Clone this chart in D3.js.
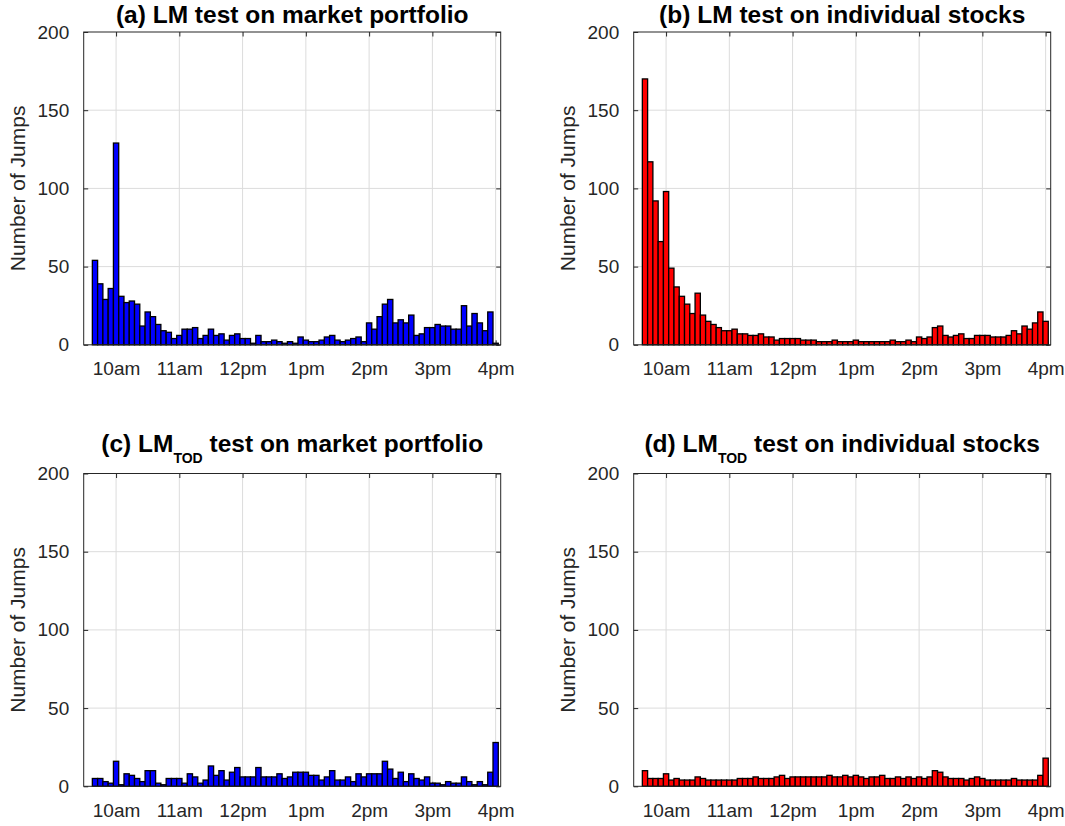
<!DOCTYPE html>
<html><head><meta charset="utf-8">
<script src="https://cdn.jsdelivr.net/npm/d3@7"></script>
<style>
body{margin:0;background:#fff;}
text{font-family:"Liberation Sans",Arial,Helvetica,sans-serif;}
</style>
</head><body>
<svg id="chart" width="1065" height="826"></svg>
<script>
// ---- DATA ----
const binTimes = ["9:40","9:45","9:50","9:55",
"10:00","10:05","10:10","10:15","10:20","10:25","10:30","10:35","10:40","10:45","10:50","10:55",
"11:00","11:05","11:10","11:15","11:20","11:25","11:30","11:35","11:40","11:45","11:50","11:55",
"12:00","12:05","12:10","12:15","12:20","12:25","12:30","12:35","12:40","12:45","12:50","12:55",
"13:00","13:05","13:10","13:15","13:20","13:25","13:30","13:35","13:40","13:45","13:50","13:55",
"14:00","14:05","14:10","14:15","14:20","14:25","14:30","14:35","14:40","14:45","14:50","14:55",
"15:00","15:05","15:10","15:15","15:20","15:25","15:30","15:35","15:40","15:45","15:50","15:55",
"16:00"];
const tickHours = [10,11,12,13,14,15,16];
const tickLabels = ["10am","11am","12pm","1pm","2pm","3pm","4pm"];
const yTicks = [0,50,100,150,200];

const lmMarket = [54,39,29,36,129,31,27,28,26,12,21,18,13,9,8,4,6,10,10,11,4,6,10,6,7,3,6,7,4,4,
1,6,2,2,3,2,1,2,1,5,3,2,2,3,5,6,3,2,3,4,5,2,14,10,18,26,29,14,16,14,
19,6,7,11,11,13,12,12,10,10,25,12,20,14,9,21,1];
const lmStocks = [170,117,92,66,98,49,37,31,26,20,33,19,15,13,11,9,9,10,7,7,6,6,7,5,5,3,4,4,4,4,
3,3,3,2,2,2,3,2,2,2,3,2,2,2,2,2,2,3,2,2,3,2,5,4,5,11,12,6,5,6,
7,4,4,6,6,6,5,5,5,6,9,7,12,10,14,21,15];
const todMarket = [5,5,3,2,16,1,8,7,5,3,10,10,2,1,5,5,5,2,8,6,2,4,13,7,10,4,9,12,6,6,
6,12,6,6,6,8,5,6,9,9,9,7,7,4,6,10,4,4,6,3,8,6,8,8,8,16,11,5,9,3,
8,5,4,6,2,2,1,3,2,2,6,3,1,3,1,9,28];
const todStocks = [10,5,5,5,8,4,5,4,4,4,6,5,4,4,4,4,4,4,5,5,5,6,5,5,5,6,7,5,6,6,
6,6,6,6,6,7,6,6,7,6,7,6,5,6,6,7,5,5,6,5,6,5,6,5,6,10,9,6,5,5,
5,4,5,6,5,4,4,4,4,4,5,4,4,4,4,7,18];

// ---- LAYOUT ----
const W = 1065, H = 826;
const colLeft = [83.7, 633.7], rowTop = [32, 473.5];
const pw = 417, ph = 312.8;
const panels = [
  {data: lmMarket, fill:"#0000ff", col:0, row:0, title:["(a) LM", null, " test on market portfolio"]},
  {data: lmStocks, fill:"#ff0000", col:1, row:0, title:["(b) LM", null, " test on individual stocks"]},
  {data: todMarket, fill:"#0000ff", col:0, row:1, title:["(c) LM", "TOD", " test on market portfolio"]},
  {data: todStocks, fill:"#ff0000", col:1, row:1, title:["(d) LM", "TOD", " test on individual stocks"]}
];
const axisColor = "#262626", gridColor = "#dcdcdc";
const toHour = s => { const [h,m] = s.split(":").map(Number); return h + m/60; };
const half = 2.5/60;

const svg = d3.select("#chart");
svg.append("rect").attr("width",W).attr("height",H).attr("fill","#fff");

panels.forEach(p => {
  const L = colLeft[p.col], T = rowTop[p.row];
  const x = d3.scaleLinear().domain([9 + 29.3/60, 16 + 4.8/60]).range([L, L + pw]);
  const y = d3.scaleLinear().domain([0, 200]).range([T + ph, T]);
  const g = svg.append("g");

  // grid
  g.append("g").selectAll("line").data(tickHours).join("line")
    .attr("x1", d => x(d)).attr("x2", d => x(d)).attr("y1", T).attr("y2", T + ph)
    .attr("stroke", gridColor).attr("stroke-width", 1);
  g.append("g").selectAll("line").data(yTicks.slice(1, -1)).join("line")
    .attr("y1", d => y(d)).attr("y2", d => y(d)).attr("x1", L).attr("x2", L + pw)
    .attr("stroke", gridColor).attr("stroke-width", 1);

  // axes (inward ticks, mirrored)
  const tl = 4.5;
  const axB = d3.axisBottom(x).tickValues(tickHours).tickFormat((d,i)=>tickLabels[i]).tickSizeInner(-tl).tickSizeOuter(0).tickPadding(17);
  const axT = d3.axisTop(x).tickValues(tickHours).tickFormat("").tickSizeInner(-tl).tickSizeOuter(0);
  const axL = d3.axisLeft(y).tickValues(yTicks).tickSizeInner(-tl).tickSizeOuter(0).tickPadding(14.5);
  const axR = d3.axisRight(y).tickValues(yTicks).tickFormat("").tickSizeInner(-tl).tickSizeOuter(0);
  const gb = g.append("g").attr("transform", `translate(0,${T+ph})`).call(axB);
  const gt = g.append("g").attr("transform", `translate(0,${T})`).call(axT);
  const gl = g.append("g").attr("transform", `translate(${L},0)`).call(axL);
  const gr = g.append("g").attr("transform", `translate(${L+pw},0)`).call(axR);
  [gb,gt,gl,gr].forEach(a => {
    a.selectAll(".domain").remove();
    a.selectAll("line").attr("stroke", axisColor);
    a.selectAll("text").attr("fill", axisColor).attr("font-size", 19)
      .attr("font-family", '"Liberation Sans",Arial,sans-serif');
  });
  gb.selectAll("text").attr("dy", "0.71em");

  // bars
  g.append("g").selectAll("rect").data(p.data).join("rect")
    .attr("x", (d,i) => x(toHour(binTimes[i]) - half))
    .attr("width", (d,i) => x(toHour(binTimes[i]) + half) - x(toHour(binTimes[i]) - half))
    .attr("y", d => y(d))
    .attr("height", d => y(0) - y(d))
    .attr("fill", p.fill).attr("stroke", "#000").attr("stroke-width", 1.3);

  // box
  g.append("rect").attr("x", L).attr("y", T).attr("width", pw).attr("height", ph)
    .attr("fill", "none").attr("stroke", axisColor).attr("stroke-width", 1);

  // y label
  g.append("text")
    .attr("transform", `translate(${L - 58.7},${T + ph/2}) rotate(-90)`)
    .attr("text-anchor", "middle").attr("font-size", 21).attr("fill", axisColor)
    .text("Number of Jumps");

  // title
  const hasSub = p.title[1] !== null;
  const tt = g.append("text")
    .attr("x", L + pw/2).attr("y", hasSub ? T - 21.8 : T - 9.5)
    .attr("text-anchor", "middle").attr("font-weight", "bold").attr("font-size", 24.5)
    .attr("fill", "#000").style("white-space", "pre");
  tt.append("tspan").text(p.title[0]);
  if (hasSub) {
    tt.append("tspan").attr("font-size", 14).attr("dy", 11.6).text(p.title[1]);
    tt.append("tspan").attr("dy", -11.6).text(p.title[2]);
  } else {
    tt.append("tspan").text(p.title[2]);
  }
});
</script>
</body></html>
